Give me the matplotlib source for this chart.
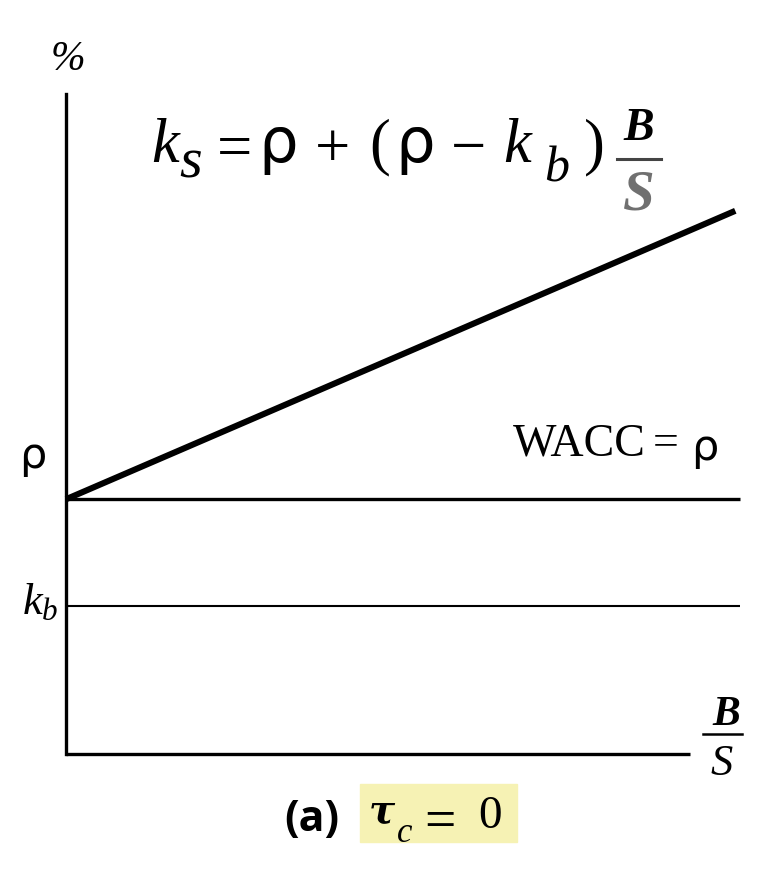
import matplotlib
matplotlib.use("Agg")
import matplotlib.pyplot as plt

plt.rcParams["mathtext.fontset"] = "custom"
plt.rcParams["mathtext.rm"] = "Liberation Serif"
plt.rcParams["mathtext.it"] = "Liberation Serif:italic"
plt.rcParams["mathtext.bf"] = "Liberation Serif:bold:italic"
plt.rcParams["mathtext.sf"] = "DejaVu Sans"

# ---- data (arbitrary units) ----
rho = 0.386          # cost of capital of unlevered firm
k_b = 0.224          # cost of debt
bs_points = [0.0, 0.993]     # B/S
ks_values = [0.386, 0.823]   # k_s along B/S
wacc_values = [0.386, 0.386]

W, H = 766, 870
fig = plt.figure(figsize=(W / 100, H / 100), dpi=100)

def px(x, y):
    return x / W, 1 - y / H

def txt(x, y, s, size, family="Liberation Serif", ha="center", va="baseline", **kw):
    fig.text(*px(x, y), s, fontsize=size, family=family, ha=ha, va=va, **kw)

def hline(x0, x1, y, lw, color="black"):
    fig.lines.append(plt.Line2D([x0 / W, x1 / W], [1 - y / H, 1 - y / H],
                                transform=fig.transFigure, color=color, lw=lw))

# axes area: x pixel 66..740, y pixel 755..95
ax = fig.add_axes([66 / W, 1 - 755 / H, (740 - 66) / W, (755 - 95) / H])
ax.set_xlim(0, 1)
ax.set_ylim(0, 1)
ax.axis("off")

# axis lines
ax.plot([0, 0], [0, 1], color="black", lw=2.4, solid_capstyle="projecting", clip_on=False)
ax.plot([0, 0.926], [0, 0], color="black", lw=2.4, solid_capstyle="butt", clip_on=False)

# lines
ax.plot([0, 1], wacc_values, color="black", lw=2.4, solid_capstyle="butt", clip_on=False)
ax.plot([0, 1], [k_b, k_b], color="black", lw=1.5, solid_capstyle="butt", clip_on=False)
ax.plot(bs_points, ks_values, color="black", lw=4.4, solid_capstyle="butt", clip_on=False)

# axis labels
fig.text(*px(68, 60), "%", fontsize=30, family="Liberation Serif", style="italic",
         ha="center", va="center")
fig.text(*px(33, 456), "ρ", fontsize=31, family="DejaVu Sans", ha="center", va="center")
fig.text(*px(40, 602), "$k_b$", fontsize=32, ha="center", va="center")
fig.text(*px(513, 444), "WACC", fontsize=33, family="Liberation Serif", ha="left", va="center")
fig.text(*px(666, 444), "=", fontsize=33, family="Liberation Serif", ha="center", va="center")
fig.text(*px(705, 448), "ρ", fontsize=31, family="DejaVu Sans", ha="center", va="center")

# formula  k_s = ρ + (ρ - k_b) B/S
base = 162
txt(151, base, "k", 45, ha="left", style="italic")
txt(191, 177, "s", 42, style="italic")
txt(235, 167, "=", 45)
txt(278, base, "ρ", 45, family="DejaVu Sans")
txt(333, 167, "+", 45)
txt(380, base, "(", 45)
txt(415, base, "ρ", 45, family="DejaVu Sans")
txt(468, 166, "−", 45)
txt(503, base, "k", 45, ha="left", style="italic")
txt(557, 182, "b", 36, style="italic")
txt(594, base, ")", 45)
txt(639, 140, "B", 33, style="italic", weight="bold")
hline(617, 661, 160, 2.2, color="#444444")
txt(639, 210, "S", 41, style="italic", weight="bold", color="#707070")

# B/S at x-axis end
txt(726, 725, "B", 30, style="italic", weight="bold")
hline(703, 742, 735, 1.8)
txt(722, 775, "S", 32, style="italic")

# caption
fig.text(*px(312, 820), "(a)", fontsize=31, weight="bold", family="Open Sans",
         ha="center", va="center")
fig.patches.append(plt.Rectangle((360 / W, 1 - 843 / H), 157 / W, 58 / H,
                                 transform=fig.transFigure, color="#f6f2b4", zorder=0))
txt(382, 823, "τ", 28, family="DejaVu Serif", style="italic", weight="bold")
txt(405, 842, "c", 25, style="italic")
txt(440, 838, "=", 40)
txt(490, 828, "0", 34)

fig.savefig("out.png", dpi=100)
